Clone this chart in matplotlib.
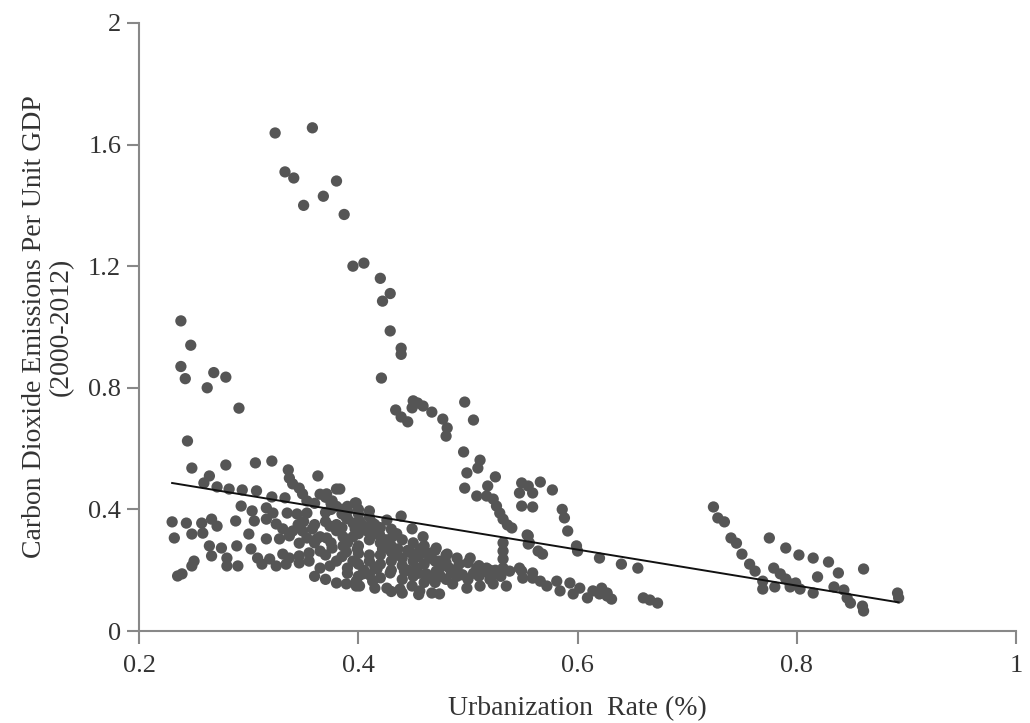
import matplotlib
matplotlib.use("Agg")
import matplotlib.pyplot as plt
import numpy as np

# points, grouped by region
upper_x = [0.324, 0.358, 0.333, 0.341, 0.380, 0.368, 0.350, 0.387, 0.395, 0.405,
           0.420, 0.429, 0.422, 0.429, 0.439, 0.439, 0.421]
upper_y = [1.638, 1.655, 1.51, 1.49, 1.48, 1.43, 1.40, 1.37, 1.20, 1.21,
           1.16, 1.11, 1.085, 0.987, 0.93, 0.91, 0.832]

lefthigh_x = [0.238, 0.247, 0.238, 0.242, 0.268, 0.279, 0.262, 0.291, 0.244]
lefthigh_y = [1.02, 0.94, 0.87, 0.83, 0.85, 0.835, 0.80, 0.733, 0.625]

chain_x = [0.434, 0.439, 0.445, 0.450, 0.454, 0.459, 0.467, 0.449, 0.477, 0.481,
           0.480, 0.497, 0.505, 0.496, 0.511, 0.509, 0.499, 0.497, 0.525, 0.518,
           0.508, 0.517, 0.523, 0.526, 0.529, 0.532, 0.536, 0.540, 0.549, 0.555,
           0.547, 0.559, 0.549, 0.559, 0.566, 0.577, 0.586, 0.588, 0.591, 0.554,
           0.555, 0.564, 0.568, 0.599, 0.600, 0.620, 0.640, 0.655]
chain_y = [0.727, 0.704, 0.688, 0.757, 0.75, 0.74, 0.72, 0.734, 0.697, 0.668,
           0.641, 0.753, 0.694, 0.589, 0.562, 0.536, 0.52, 0.47, 0.507, 0.477,
           0.444, 0.444, 0.434, 0.411, 0.388, 0.368, 0.349, 0.339, 0.487, 0.477,
           0.454, 0.454, 0.411, 0.408, 0.49, 0.464, 0.40, 0.372, 0.329, 0.316,
           0.286, 0.263, 0.253, 0.28, 0.263, 0.24, 0.22, 0.207]

midlow_x = [0.547, 0.550, 0.559, 0.566, 0.572, 0.581, 0.584, 0.593, 0.596, 0.602,
            0.609, 0.614, 0.620, 0.627, 0.631, 0.622, 0.627, 0.660, 0.666, 0.673]
midlow_y = [0.207, 0.174, 0.191, 0.164, 0.148, 0.164, 0.132, 0.158, 0.122, 0.141,
            0.109, 0.132, 0.122, 0.115, 0.105, 0.141, 0.125, 0.109, 0.102, 0.092]

right_x = [0.724, 0.728, 0.734, 0.740, 0.745, 0.750, 0.757, 0.762, 0.769, 0.769,
           0.775, 0.779, 0.785, 0.790, 0.794, 0.799, 0.803, 0.780, 0.794, 0.790,
           0.802, 0.815, 0.829, 0.838, 0.819, 0.815, 0.834, 0.843, 0.846, 0.849,
           0.860, 0.861, 0.861, 0.892, 0.893]
right_y = [0.408, 0.372, 0.359, 0.306, 0.289, 0.253, 0.220, 0.197, 0.164, 0.138,
           0.306, 0.207, 0.188, 0.171, 0.155, 0.158, 0.138, 0.145, 0.145, 0.273,
           0.25, 0.24, 0.227, 0.191, 0.178, 0.125, 0.145, 0.135, 0.109, 0.092,
           0.082, 0.066, 0.204, 0.125, 0.109]

leftdense_x = [0.248, 0.279, 0.306, 0.321, 0.336, 0.337, 0.340, 0.346, 0.349, 0.353,
               0.363, 0.264, 0.259, 0.271, 0.282, 0.294, 0.307, 0.321, 0.333, 0.371,
               0.380, 0.376, 0.293, 0.303, 0.316, 0.322, 0.335, 0.344, 0.353, 0.230,
               0.243, 0.257, 0.266, 0.271, 0.288, 0.305, 0.316, 0.325, 0.331, 0.340,
               0.349, 0.358, 0.374, 0.232, 0.248, 0.258, 0.300, 0.316, 0.328, 0.337,
               0.346, 0.353, 0.362, 0.371, 0.264, 0.275, 0.289, 0.266, 0.280, 0.302,
               0.308, 0.319, 0.331, 0.337, 0.346, 0.355, 0.365, 0.376, 0.386, 0.250,
               0.248, 0.280, 0.290, 0.312, 0.325, 0.334, 0.346, 0.355, 0.365, 0.374,
               0.235, 0.239, 0.380, 0.389, 0.398, 0.398, 0.383, 0.397, 0.401, 0.415]
leftdense_y = [0.536, 0.546, 0.553, 0.559, 0.530, 0.503, 0.484, 0.470, 0.451, 0.428,
               0.51, 0.51, 0.487, 0.474, 0.467, 0.464, 0.461, 0.441, 0.438, 0.451,
               0.467, 0.428, 0.411, 0.395, 0.405, 0.388, 0.388, 0.385, 0.388, 0.359,
               0.355, 0.355, 0.368, 0.345, 0.362, 0.362, 0.368, 0.352, 0.336, 0.329,
               0.329, 0.336, 0.345, 0.306, 0.319, 0.322, 0.319, 0.303, 0.303, 0.313,
               0.289, 0.306, 0.303, 0.306, 0.28, 0.273, 0.28, 0.247, 0.240, 0.27,
               0.24, 0.237, 0.253, 0.24, 0.247, 0.257, 0.263, 0.273, 0.28, 0.23,
               0.214, 0.214, 0.214, 0.22, 0.214, 0.22, 0.224, 0.23, 0.207, 0.214,
               0.181, 0.188, 0.158, 0.155, 0.164, 0.421, 0.467, 0.421, 0.148, 0.141]

middense_x = [0.439, 0.389, 0.401, 0.413, 0.426, 0.386, 0.397, 0.408, 0.419, 0.431,
              0.449, 0.459, 0.389, 0.399, 0.410, 0.422, 0.436, 0.447, 0.456, 0.463,
              0.471, 0.481, 0.474, 0.390, 0.404, 0.417, 0.429, 0.442, 0.453, 0.462,
              0.471, 0.483, 0.492, 0.502, 0.508, 0.517, 0.526, 0.538, 0.549, 0.559,
              0.398, 0.413, 0.426, 0.438, 0.449, 0.456, 0.467, 0.474, 0.486, 0.499,
              0.511, 0.523, 0.535, 0.532, 0.532, 0.532, 0.532, 0.555, 0.556,
              0.40, 0.41, 0.415, 0.42, 0.43, 0.435, 0.44, 0.45, 0.46, 0.47,
              0.48, 0.49, 0.50, 0.51, 0.52, 0.365, 0.37, 0.375, 0.38, 0.385,
              0.39, 0.37, 0.38, 0.39, 0.40, 0.41, 0.42, 0.43, 0.44, 0.45,
              0.46, 0.37, 0.38, 0.40, 0.41, 0.42, 0.43, 0.36, 0.37, 0.44,
              0.45, 0.46, 0.47, 0.48, 0.49, 0.50, 0.51, 0.52, 0.53, 0.43,
              0.44, 0.455]
middense_y = [0.378, 0.372, 0.362, 0.355, 0.365, 0.31, 0.336, 0.329, 0.32, 0.31,
              0.336, 0.31, 0.26, 0.27, 0.25, 0.27, 0.27, 0.26, 0.27, 0.257,
              0.273, 0.253, 0.23, 0.207, 0.188, 0.204, 0.191, 0.197, 0.207, 0.188,
              0.197, 0.207, 0.22, 0.24, 0.207, 0.207, 0.188, 0.197, 0.197, 0.174,
              0.148, 0.164, 0.141, 0.138, 0.148, 0.132, 0.125, 0.122, 0.155, 0.141,
              0.148, 0.155, 0.148, 0.29, 0.263, 0.237, 0.207, 0.313, 0.29,
              0.40, 0.375, 0.35, 0.34, 0.335, 0.32, 0.30, 0.29, 0.28, 0.265,
              0.25, 0.24, 0.225, 0.215, 0.20, 0.45, 0.44, 0.42, 0.41, 0.40,
              0.395, 0.36, 0.33, 0.29, 0.28, 0.30, 0.29, 0.26, 0.24, 0.23,
              0.22, 0.25, 0.23, 0.22, 0.23, 0.22, 0.23, 0.18, 0.17, 0.17,
              0.18, 0.16, 0.16, 0.17, 0.18, 0.17, 0.18, 0.17, 0.18, 0.13,
              0.125, 0.12]

# extra points filling the dense band under the trend line
band_x = [0.375, 0.385, 0.39, 0.395, 0.405, 0.41, 0.40, 0.395, 0.415, 0.42,
          0.425, 0.38, 0.385, 0.37, 0.36, 0.39, 0.40, 0.41,
          0.445, 0.45, 0.455, 0.465, 0.47, 0.48, 0.475, 0.485, 0.49, 0.495,
          0.505, 0.515, 0.525, 0.43, 0.435, 0.44, 0.445, 0.455, 0.465, 0.475,
          0.42, 0.415, 0.405, 0.395, 0.40, 0.43, 0.42, 0.41, 0.40, 0.39,
          0.385, 0.375, 0.36, 0.365, 0.36, 0.35, 0.345]
band_y = [0.40, 0.385, 0.37, 0.355, 0.345, 0.335, 0.32, 0.31, 0.32, 0.31,
          0.30, 0.35, 0.34, 0.39, 0.42, 0.41, 0.385, 0.395,
          0.265, 0.25, 0.245, 0.24, 0.23, 0.225, 0.21, 0.19, 0.20, 0.185,
          0.19, 0.195, 0.20, 0.28, 0.25, 0.215, 0.20, 0.19, 0.175, 0.18,
          0.25, 0.21, 0.20, 0.23, 0.255, 0.20, 0.175, 0.185, 0.18, 0.19,
          0.245, 0.29, 0.29, 0.31, 0.35, 0.36, 0.35]

# fitted trend line
trend_slope = -0.592
trend_intercept = 0.623

x = np.array(upper_x + lefthigh_x + chain_x + midlow_x + right_x
             + leftdense_x + middense_x + band_x)
y = np.array(upper_y + lefthigh_y + chain_y + midlow_y + right_y
             + leftdense_y + middense_y + band_y)

plt.rcParams['font.family'] = ['Liberation Serif', 'DejaVu Serif']

fig = plt.figure(figsize=(10.3, 7.23), dpi=100)
ax = fig.add_axes([0.1352, 0.1272, 0.8511, 0.8411])

ax.scatter(x, y, s=66, color='#555555', edgecolors='none', zorder=2)

tx = np.array([x.min(), x.max()])
ax.plot(tx, trend_intercept + trend_slope * tx, color='#111111', lw=1.4, zorder=3)

ax.set_xlim(0.2, 1.0)
ax.set_ylim(0, 2.0)
ax.set_xticks([0.2, 0.4, 0.6, 0.8, 1.0])
ax.set_xticklabels(['0.2', '0.4', '0.6', '0.8', '1'])
ax.set_yticks([0, 0.4, 0.8, 1.2, 1.6, 2.0])
ax.set_yticklabels(['0', '0.4', '0.8', '1.2', '1.6', '2'])

for s in ['top', 'right']:
    ax.spines[s].set_visible(False)
for s in ['left', 'bottom']:
    ax.spines[s].set_color('#888888')
    ax.spines[s].set_linewidth(1.5)
ax.tick_params(axis='both', colors='#888888', width=1.5, length=9,
               labelsize=19, labelcolor='#333333')
ax.tick_params(axis='x', pad=8)
ax.tick_params(axis='y', pad=4)

ax.set_xlabel('Urbanization  Rate (%)', fontsize=20, color='#333333', labelpad=14)
ax.set_ylabel('Carbon Dioxide Emissions Per Unit GDP\n(2000-2012)', fontsize=20,
              color='#333333', labelpad=10, linespacing=1.1)

fig.savefig('out.png', dpi=100)
